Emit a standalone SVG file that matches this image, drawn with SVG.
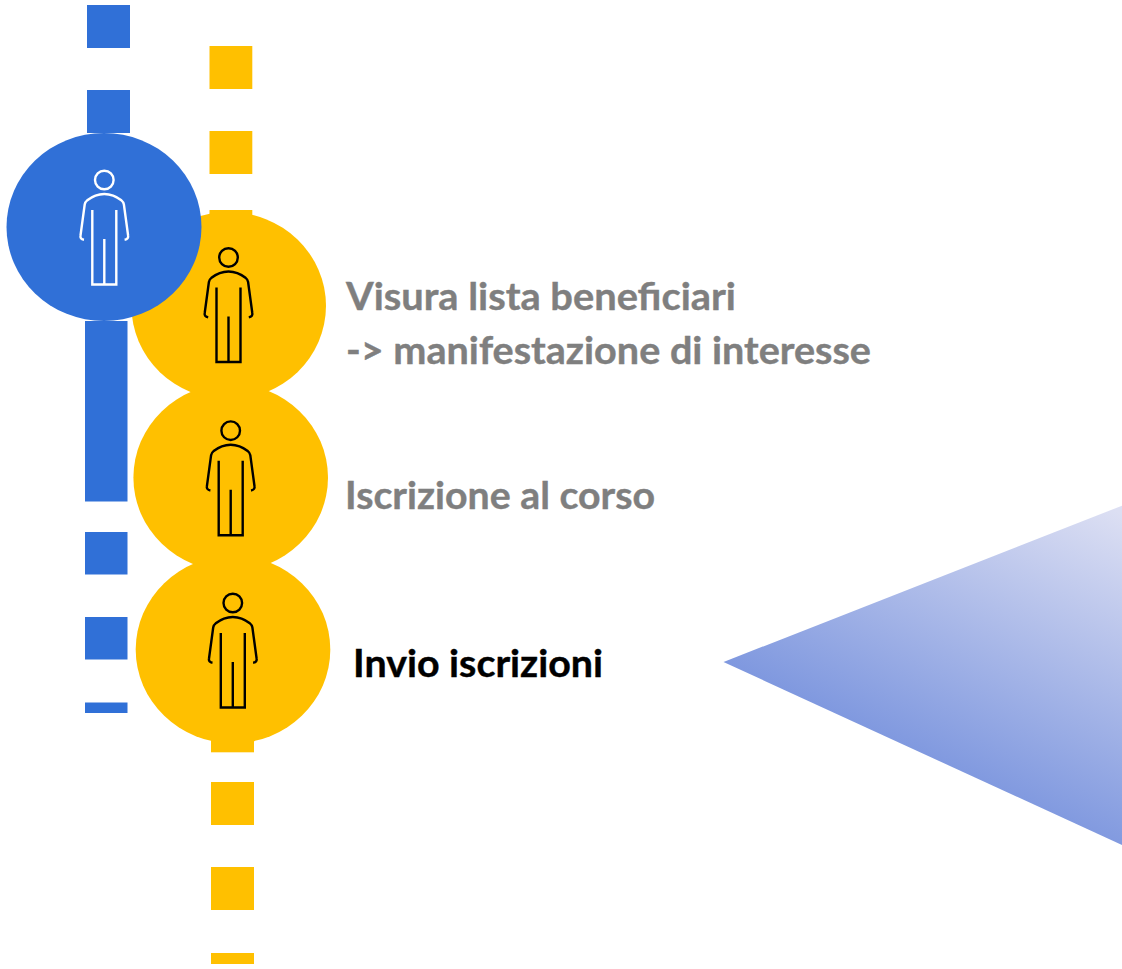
<svg xmlns="http://www.w3.org/2000/svg" width="1122" height="969" viewBox="0 0 1122 969">
<style>
.b{fill:#3070d7}.y{fill:#ffc000}
.t{font-family:Lato,"Liberation Sans",sans-serif;font-weight:700;font-size:38px;stroke-width:.4px}
.g{fill:#7f7f7f;stroke:#7f7f7f}.k{fill:#000;stroke:#000}
.w{stroke:#fff}.n{stroke:#000}
</style>
<defs>
<linearGradient id="gr" gradientUnits="userSpaceOnUse" x1="723" y1="662" x2="858" y2="385">
<stop offset="0" stop-color="#7f98df"/><stop offset="1" stop-color="#dcdff3"/>
</linearGradient>
<g id="person" fill="none" stroke-width="2.400">
<circle cx="0" cy="0" r="9.300"/>
<path d="M-20.300 59.800C-23.300 59.300 -24.200 57.500 -23.800 55.500L-19.600 24.500C-19.200 22 -18.500 21.500 -17 20.300C-12 16.300 -6 14 0 14C6 14 12 16.300 17 20.300C18.500 21.500 19.200 22 19.600 24.500L23.800 55.500C24.200 57.500 23.300 59.300 20.300 59.800"/>
<path d="M-12 30V104.500H12V30M0 59V104.500"/>
</g>
</defs>
<g id="dash-blue">
<rect class="b" x="87" y="5" width="43" height="43"/>
<rect class="b" x="87" y="90" width="43" height="43"/>
<rect class="b" x="85" y="321" width="42.500" height="180.500"/>
<rect class="b" x="85" y="532" width="42.500" height="42.500"/>
<rect class="b" x="85" y="617" width="42.500" height="42.500"/>
<rect class="b" x="85" y="702.500" width="42.500" height="10.500"/>
</g>
<g id="dash-yellow">
<rect class="y" x="209.500" y="46" width="42.800" height="43"/>
<rect class="y" x="209.500" y="131" width="42.800" height="43"/>
<rect class="y" x="209.500" y="210" width="42.800" height="12"/>
<rect class="y" x="211" y="740" width="43" height="12.300"/>
<rect class="y" x="211" y="782" width="43" height="43"/>
<rect class="y" x="211" y="867" width="43" height="43"/>
<rect class="y" x="211" y="953" width="43" height="11"/>
</g>
<g id="node-visura">
<ellipse class="y" cx="228.700" cy="305.800" rx="97.300" ry="93.800"/>
<use href="#person" x="228.500" y="257.500" class="n"/>
<text class="t g" x="346" y="310" textLength="390" lengthAdjust="spacingAndGlyphs">Visura lista beneficiari</text>
<text class="t g" x="346" y="363.500" textLength="525" lengthAdjust="spacingAndGlyphs">-&gt; manifestazione di interesse</text>
</g>
<g id="node-iscrizione">
<ellipse class="y" cx="230.700" cy="477.500" rx="97.300" ry="93.800"/>
<use href="#person" x="230.700" y="430.700" class="n"/>
<text class="t g" x="345" y="509" textLength="310" lengthAdjust="spacingAndGlyphs">Iscrizione al corso</text>
</g>
<g id="node-invio">
<ellipse class="y" cx="233" cy="649.500" rx="97.300" ry="93.800"/>
<use href="#person" x="232.800" y="603" class="n"/>
<text class="t k" x="353" y="677" textLength="250" lengthAdjust="spacingAndGlyphs">Invio iscrizioni</text>
</g>
<g id="node-blue">
<ellipse class="b" cx="104" cy="227" rx="97.500" ry="94"/>
<use href="#person" x="104.300" y="180" class="w"/>
</g>
<polygon id="triangle" points="723.500,662 1122,505.700 1122,845" fill="url(#gr)"/>
</svg>
